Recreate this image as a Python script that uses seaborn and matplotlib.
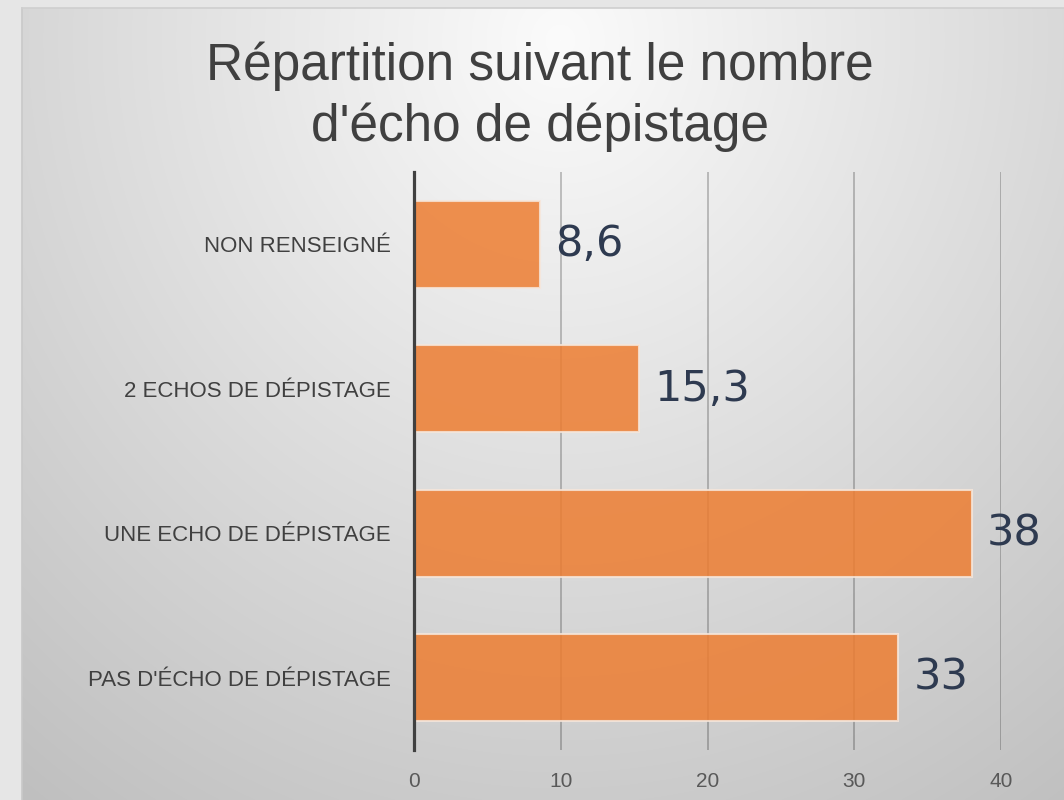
import numpy as np
import pandas as pd
import matplotlib
matplotlib.use("Agg")
import matplotlib.pyplot as plt
import seaborn as sns
from matplotlib.patches import Rectangle


categories = ["NON RENSEIGNÉ", "2 ECHOS DE DÉPISTAGE",
              "UNE ECHO DE DÉPISTAGE", "PAS D'ÉCHO DE DÉPISTAGE"]
values = [8.6, 15.3, 38, 33]
value_labels = ["8,6", "15,3", "38", "33"]
x_ticks = [0, 10, 20, 30, 40]

title = "Répartition suivant le nombre\nd'écho de dépistage"


def draw_background(fig):
    # full-figure axes holding the grey radial gradient panel
    bg = fig.add_axes([0, 0, 1, 1], zorder=-10)
    W, H = 1064, 800
    xx, yy = np.meshgrid(np.arange(W), np.arange(H))
    d = np.sqrt(((xx - 560) / 650.0) ** 2 + ((yy - 40) / 700.0) ** 2)
    shade = np.clip(251 - 44 * d, 190, 255) / 255.0
    img = np.dstack([shade, shade, shade])
    bg.imshow(img, extent=(0, W, H, 0), aspect="auto", interpolation="bilinear")
    bg.set_xlim(0, W)
    bg.set_ylim(H, 0)
    # light outer frame at top and left
    bg.add_patch(Rectangle((0, 0), W, 8, color="#e6e6e6", lw=0))
    bg.add_patch(Rectangle((0, 0), 22, H, color="#e6e6e6", lw=0))
    bg.plot([22, 22], [8, H], color="#c9c9c9", lw=1.2)
    bg.plot([22, W], [8, 8], color="#cfcfcf", lw=1.2)
    bg.axis("off")


def main():
    df = pd.DataFrame({"cat": categories, "val": values})

    fig = plt.figure(figsize=(10.64, 8), dpi=100)
    draw_background(fig)

    ax = fig.add_axes([414 / 1064, 1 - 750 / 800, 587 / 1064, 578 / 800])
    ax.set_facecolor("none")

    sns.barplot(data=df, x="val", y="cat", orient="h", color="#ED7D31",
                saturation=1, width=0.6, alpha=0.85,
                edgecolor="#f6e6da", linewidth=1.5, ax=ax, zorder=3)

    for i, (v, lab) in enumerate(zip(values, value_labels)):
        ax.annotate(lab, (v, i), xytext=(11, 0), textcoords="offset points",
                    ha="left", va="center", fontsize=31, color="#2e3a50",
                    family="DejaVu Sans", zorder=5)

    ax.set_xlim(0, 40)
    ax.set_ylim(3.5, -0.5)
    ax.set_xticks(x_ticks)
    ax.set_xticklabels([str(t) for t in x_ticks], fontsize=15, color="#595959",
                       family="Liberation Sans")
    ax.set_yticks(range(len(categories)))
    ax.set_yticklabels(categories, fontsize=16, color="#404040",
                       family="Liberation Sans")
    ax.tick_params(axis="both", length=0)
    ax.tick_params(axis="x", pad=16)
    ax.tick_params(axis="y", pad=17)
    ax.set_xlabel("")
    ax.set_ylabel("")

    ax.xaxis.grid(True, color="black", alpha=0.28, lw=1.1, zorder=0)
    ax.yaxis.grid(False)
    ax.set_axisbelow(True)
    for s in ["top", "right", "bottom"]:
        ax.spines[s].set_visible(False)
    ax.spines["left"].set_color("#404040")
    ax.spines["left"].set_linewidth(2.3)
    ax.spines["left"].set_zorder(6)

    fig.text(540 / 1064, 1 - 97 / 800, title, ha="center", va="center",
             fontsize=37, color="#404040", family="Liberation Sans",
             linespacing=1.3)

    fig.savefig("out.png", dpi=100)


if __name__ == '__main__':
    main()
